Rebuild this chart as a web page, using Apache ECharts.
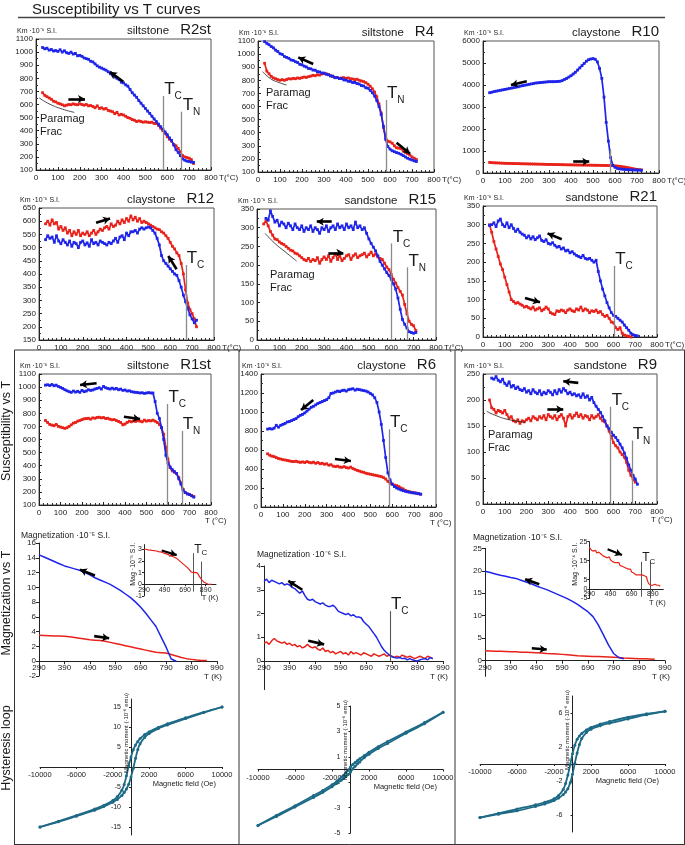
<!DOCTYPE html>
<html><head><meta charset="utf-8">
<script src="https://cdn.jsdelivr.net/npm/echarts@6/dist/echarts.min.js"></script>
<style>html,body{margin:0;padding:0;background:#fff}#c{width:685px;height:845px}</style>
</head><body><div id="c"></div>
<script>
// ---------------- DATA ----------------
const tempC = [30,40,50,60,70,80,90,100,110,120,
130,140,150,160,170,180,190,200,210,220,
230,240,250,260,270,280,290,300,310,320,
330,340,350,360,370,380,390,400,410,420,
430,440,450,460,470,480,490,500,510,520,
530,540,550,560,570,580,590,600,610,620,
630,640,650,660,670,680,690,700,710,720,
730];

const r2stBlue = [1035,1025,1030,1015,1020,1008,1012,1005,1018,1000,
1010,995,990,1000,985,990,972,975,968,955,
950,945,930,925,910,895,885,878,870,862,
850,835,825,810,800,790,770,765,750,740,
715,690,672,655,630,610,590,570,550,532,
510,490,470,450,430,410,390,370,345,325,
290,255,235,210,185,175,168,165,160,158,
null];
const r2stRed = [690,670,660,650,640,625,620,610,605,598,
590,595,600,598,605,600,598,605,600,595,
600,590,592,585,575,590,570,575,565,570,
555,550,545,530,540,520,525,520,510,500,
495,485,480,470,475,470,465,468,465,462,
465,455,455,440,420,400,380,355,335,320,
295,285,265,240,210,200,195,190,180,150,
null];
const r4Blue = [1095,1082,1072,1058,1048,1030,1020,1003,998,982,
975,968,955,952,942,936,922,918,908,902,
890,888,878,877,866,864,856,855,846,842,
833,832,820,820,813,814,803,802,793,792,
783,784,775,772,760,757,743,740,723,705,
680,645,600,540,450,350,295,275,262,255,
248,243,235,225,215,205,198,192,185,180,
null];
const r4Red = [930,870,850,830,818,812,805,800,805,800,
806,812,810,815,812,818,815,820,825,822,
828,832,838,835,842,840,848,852,850,845,
835,828,820,822,815,818,820,815,818,812,
810,805,808,800,795,790,782,770,755,735,
710,675,620,550,440,370,335,330,320,300,
285,282,278,262,250,240,230,215,205,195,
null];
const r10Blue = [3650,3670,3700,3720,3740,3760,3780,3800,3820,3840,
3860,3880,3900,3920,3950,3970,3990,4010,4030,4050,
4070,4090,4100,4110,4120,4130,4140,4150,4150,4150,
4155,4160,4170,4200,4250,4300,4360,4420,4500,4580,
4680,4780,4880,4980,5080,5150,5180,5200,5170,5050,
4750,4300,3450,2300,1450,700,350,260,210,190,
175,165,158,150,145,140,138,135,130,125,
null];
const r10Red = [480,470,465,460,455,450,445,440,438,435,
432,430,428,425,422,420,418,415,412,410,
408,405,402,400,398,395,392,390,388,386,
384,382,380,378,376,374,372,370,368,366,
364,362,360,358,356,355,354,352,350,350,
348,346,345,342,340,335,330,325,315,305,
290,275,260,240,220,200,180,165,150,140,
null];
const r12Blue = [530,545,535,540,520,545,525,515,530,520,
510,525,505,520,515,500,520,525,510,518,
505,530,515,520,510,525,520,515,510,520,
515,525,535,520,540,545,530,555,545,560,
560,565,555,570,575,570,575,578,575,565,
555,535,510,470,450,440,430,420,410,400,
395,375,350,320,295,270,245,230,215,225,
null];
const r12Red = [590,600,585,605,590,595,570,580,565,575,
555,565,545,560,550,565,545,555,550,560,
545,555,565,550,560,570,565,575,580,570,
590,580,585,600,590,605,595,610,600,620,
605,615,600,610,595,600,595,590,585,580,
575,570,568,560,555,545,535,520,505,495,
480,470,440,400,340,290,265,250,230,200,
null];
const r15Blue = [null,325,320,345,330,315,320,305,315,310,
300,312,305,295,310,300,295,305,290,300,
295,305,290,300,295,285,300,295,305,290,
300,305,295,310,300,305,295,310,300,305,
295,315,300,305,295,300,285,270,258,248,
238,225,210,200,190,180,172,162,150,136,
112,82,55,42,32,22,20,18,20,null,
null];
const r15Red = [310,318,305,290,280,270,268,262,258,255,
250,245,240,238,232,230,225,220,215,212,
218,210,215,212,220,205,215,222,215,225,
210,220,230,215,225,212,218,225,228,215,
225,230,220,225,228,232,222,228,235,225,
230,222,218,215,205,195,188,175,162,152,
140,130,120,95,70,50,42,38,25,null,
null];
const r21Blue = [298,300,305,295,310,315,300,295,305,292,
300,290,282,288,280,275,272,265,270,262,
268,260,265,270,258,255,260,250,248,252,
245,240,242,235,238,230,232,225,228,222,
218,215,212,218,210,208,210,205,200,205,
175,150,128,110,92,78,65,58,55,50,
45,40,32,25,18,10,6,4,3,null,
null];
const r21Red = [300,280,255,235,215,195,180,160,140,120,
100,95,90,92,88,85,80,82,78,75,
80,72,75,78,70,74,80,75,65,62,
60,70,68,72,70,65,72,75,70,68,
75,72,80,70,75,72,65,70,68,72,
65,68,60,55,58,50,40,38,25,20,
25,10,5,3,2,0,null,null,null,null,
null];
const r1stBlue = [1015,1018,1012,1020,1010,1015,1005,998,990,980,
972,965,960,970,962,968,960,975,965,970,
980,975,978,985,990,995,985,1005,995,990,
985,992,985,990,980,985,975,978,970,972,
965,962,960,958,955,957,952,955,958,955,
955,890,800,760,690,600,480,420,390,370,
355,340,300,260,215,195,185,180,170,160,
null];
const r1stRed = [745,730,715,710,705,715,700,695,690,685,
690,700,712,725,730,740,745,752,758,760,
762,755,765,762,768,770,765,768,760,762,
755,750,752,745,738,730,712,718,730,740,
735,742,738,745,740,735,748,740,745,742,
748,740,730,715,690,640,540,450,385,360,
350,340,310,270,220,195,185,180,172,165,
null];
const r6Blue = [820,825,820,830,860,840,860,870,880,895,
900,910,920,930,950,965,975,990,1010,1030,
1050,1060,1075,1090,1100,1110,1120,1130,1150,1195,
1200,1210,1220,1215,1225,1230,1220,1235,1240,1245,
1230,1240,1235,1230,1225,1220,1210,1195,1180,1150,
1100,1000,870,700,520,360,285,240,215,200,
190,180,172,165,160,155,150,148,145,140,
135];
const r6Red = [560,545,535,530,520,510,505,498,495,490,
485,480,478,482,475,470,475,468,478,470,
465,472,460,468,455,460,450,455,440,445,
430,425,430,420,418,425,415,410,420,405,
395,385,378,370,365,355,350,345,340,335,
330,325,320,310,295,270,250,240,230,225,
215,200,190,175,165,160,155,150,145,140,
135];
const r9Blue = [null,242,240,245,238,235,240,232,228,235,
225,228,222,225,220,218,222,215,218,212,
220,215,212,218,210,215,212,218,215,210,
218,212,220,215,222,218,212,215,210,212,
208,210,205,212,205,208,200,205,195,188,
182,176,168,160,150,145,138,132,128,122,
115,108,98,88,75,65,55,48,38,null,
null];
const r9Red = [200,185,182,175,180,178,175,180,172,165,
168,160,158,162,155,160,158,162,165,160,
168,165,162,168,165,170,162,172,168,165,
170,162,168,172,165,150,168,172,165,170,
175,168,172,165,170,168,162,170,165,168,
172,165,160,158,150,140,130,118,112,108,
100,95,90,80,65,55,48,42,null,null,
null];

// transition-temperature markers [T, top of line]
const r2stTc = [582,665], r2stTn = [666,545];
const r4Tn = [582,650];
const r10Tc = [580,1100];
const r12Tc = [671,434];
const r15Tc = [602,258], r15Tn = [673,194];
const r21Tc = [604,190];
const r1stTc = [598,871], r1stTn = [664,665];
const r6Tc = [585,818];
const r9Tc = [587,187], r9Tn = [684,122];

// heating / cooling arrows [from, to] in data units
const r2stArrows = [[[399,774],[338,850]], [[148,642],[224,642]]];
const r4Arrows = [[[251,924],[183,975]], [[630,324],[691,240]]];
const r10Arrows = [[[199,4170],[127,4000]], [[410,515],[483,515]]];
const r12Arrows = [[[261,594],[325,610]], [[629,418],[591,468]]];
const r15Arrows = [[[334,316],[267,316]], [[319,233],[386,233]]];
const r21Arrows = [[[362,261],[297,277]], [[193,104],[262,93]]];
const r1stArrows = [[[268,1030],[191,1016]], [[395,774],[470,756]]];
const r6Arrows = [[[239,1126],[183,1021]], [[338,505],[411,484]]];
const r9Arrows = [[[438,233],[369,236]], [[296,182],[369,182]]];

// paramagnetic fraction curves
const r2stArc = [[15,650],[60,605],[120,565],[175,540]];
const r4Arc = [[21,866],[57,812],[95,783],[130,764]];
const r15Arc = [[36,285],[80,258],[125,236],[177,211]];
const r9Arc = [[17,178],[60,170],[110,163],[193,157]];

// Magnetization vs T (K)
const tK20 = [290,310,330,350,370,390,410,430,450,470,
490,510,530,550,570,590,610,630,650,670,
690,710,730,750,770,790,810,830,850,870,
890,910,930,950];
const mag1Blue = [14.4,14.1,13.8,13.5,13.2,12.9,12.7,12.5,12.3,12.0,
11.7,11.3,11.0,10.7,10.4,10.0,9.6,9.1,8.6,8.0,
7.3,6.5,5.6,4.7,3.3,1.9,0.3,0.0,null,null,
null,null,null,null];
const mag1Red = [3.5,3.48,3.45,3.42,3.4,3.38,3.3,3.2,3.1,3.0,
2.9,2.85,2.8,2.7,2.55,2.4,2.25,2.1,1.95,1.8,
1.65,1.5,1.35,1.2,1.15,1.1,0.9,0.7,0.5,0.35,
0.25,0.15,0.1,0.1];
const inset1Red = [3.0,3.0,2.95,2.93,2.9,2.88,2.85,2.8,2.78,2.72,
2.65,2.6,2.52,2.45,2.38,2.3,2.2,2.05,1.9,1.75,
1.6,1.45,1.25,1.05,1.0,1.02,0.95,0.65,0.4,0.2,
0.1,0.02,0.0,0.0];
const mag3Blue = [19.9,19.6,19.3,19.0,18.8,18.5,18.3,17.9,17.5,17.1,
16.6,16.2,15.8,15.3,14.8,14.3,13.8,13.2,12.5,11.7,
10.9,9.8,8.0,5.8,3.5,1.6,0.7,0.4,null,null,
null,null,null,null];
const mag3Red = [2.2,2.15,2.1,2.1,2.05,2.0,2.0,1.9,1.85,1.8,
1.75,1.7,1.6,1.55,1.5,1.4,1.3,1.2,1.1,1.05,
1.0,0.95,0.9,0.85,0.8,0.75,0.7,0.6,0.55,0.5,
0.45,0.4,0.35,0.3];

const tK10 = [290,300,310,320,330,340,350,360,370,380,
390,400,410,420,430,440,450,460,470,480,
490,500,510,520,530,540,550,560,570,580,
590,600,610,620,630,640,650,660,670,680,
690,700,710,720,730,740,750,760,770,780,
790,800,810,820,830,840,850,860,870,880,
890,900,910,920,930,940,950,960];
const mag2Blue = [3.35,3.45,3.3,3.4,3.35,3.3,3.25,3.3,3.2,3.25,
3.2,3.1,3.05,2.95,2.85,2.95,2.75,2.6,2.55,2.6,
2.5,2.45,2.4,2.45,2.35,2.3,2.3,2.35,2.25,2.1,
2.05,2.0,1.95,2.0,1.9,1.95,1.85,1.85,1.82,1.65,
1.55,1.45,1.3,1.15,1.0,0.8,0.6,0.45,0.35,0.25,
0.18,0.15,0.12,0.15,0.1,0.12,0.05,0.1,0.05,0.02,
0.0,0.05,0.08,0.1,0.05,0.15,0.1,null];
const mag2Red = [0.75,0.8,0.7,0.85,0.95,0.85,0.8,0.75,0.8,0.7,
0.75,0.65,0.7,0.6,0.65,0.55,0.6,0.7,0.6,0.55,
0.6,0.5,0.45,0.55,0.4,0.45,0.35,0.4,0.3,0.35,
0.4,0.3,0.35,0.25,0.4,0.3,0.35,0.3,0.25,0.35,
0.3,0.25,0.2,0.3,0.25,0.2,0.25,0.3,0.2,0.25,
0.2,0.15,0.2,0.15,0.25,0.2,0.15,0.2,0.15,0.1,
0.15,0.2,0.15,0.1,0.2,0.15,0.1,null];
const inset3Red = [22,21,20.5,21.5,20,19.5,20.5,19,20,19.5,
19.8,18.5,19,17.5,18.5,17,18,16.5,17.5,17,
15.5,16.5,14.5,15.5,14,15,14,13,14,12.5,
13.5,12,12.5,11.5,12.5,11,12,10.5,10,10.5,
9,9.5,8.5,8.5,7.5,8,7.5,6.5,7.5,7,
7.5,6.5,7,6,6.5,4.5,3,3.5,2,3,
2,1.5,2.5,1.5,2,1,2,1.5];

const mag1Arrows = [[[510,11.6],[451,12.4]], [[507,3.4],[566,3.1]]];
const inset1Arrows = [[[462,2.9],[608,2.5]]];
const inset1Tc = [[770,2.66,-0.63],[847,1.94,-1.0]];
const mag2Arrows = [[[440,3.0],[385,3.37]], [[463,0.85],[525,0.7]]];
const mag2Tc = [783,0,2.1];
const mag3Arrows = [[[501,17.0],[446,18.1]], [[472,2.75],[530,2.5]]];
const inset3Arrows = [[[463,21],[599,18]]];
const inset3Tc = [[782,14.4,-4.1],[867,14.4,-5]];

// Hysteresis loops
const hField = [-10000,-8000,-6000,-4000,-3000,-2000,-1500,-1000,-750,-500,-250,0,250,500,750,1000,1500,2000,3000,4000,6000,8000,10000];
const h1Up  = [-15,-13.6,-12.1,-10.5,-9.6,-8.4,-7.4,-5.8,-4.4,-2.2,0.3,2.5,4.3,5.5,6.4,7.1,8.1,8.8,9.9,10.8,12.3,13.7,15];
const h1Low = [-15,-13.7,-12.3,-10.8,-9.9,-8.8,-8.1,-7.1,-6.4,-5.5,-4.3,-2.5,-0.3,2.2,4.4,5.8,7.4,8.4,9.6,10.5,12.1,13.6,15];
const h2Up  = [-4.4,-3.6,-2.85,-2.05,-1.65,-1.2,-0.95,-0.6,-0.45,-0.25,-0.05,0.2,0.4,0.55,0.7,0.85,1.1,1.35,1.8,2.2,2.95,3.7,4.5];
const h2Low = [-4.4,-3.7,-2.95,-2.2,-1.8,-1.35,-1.1,-0.85,-0.7,-0.55,-0.4,-0.2,0.05,0.25,0.45,0.6,0.95,1.2,1.65,2.05,2.85,3.6,4.5];
const h3Up  = [-6.3,-5.8,-5.3,-4.8,-4.5,-4.1,-3.7,-3.0,-2.3,-1.3,-0.1,1.2,2.2,2.9,3.3,3.6,4.0,4.3,4.7,5.0,5.5,5.9,6.2];
const h3Low = [-6.3,-5.9,-5.5,-5.0,-4.7,-4.3,-4.0,-3.6,-3.3,-2.9,-2.2,-1.2,0.1,1.3,2.3,3.0,3.7,4.1,4.5,4.8,5.3,5.8,6.2];

const xTicksK = [290,390,490,590,690,790,890,990];
const xTicksInset = [290,490,690,890];
const xTicksH = [-10000,-6000,-2000,2000,6000,10000];

// ---------------- LAYOUT / STYLE ----------------
const FONT = '"Liberation Sans", Arial, sans-serif';
const BLUE = '#1f25e8', RED = '#e8221a', TEAL = '#1d6a86', INK = '#1a1a1a';

const suscPanels = [
  {g:[36,39,175,131], rock:'siltstone', id:'R2st', y:[100,1100,100], blue:r2stBlue, red:r2stRed, marks:[[r2stTc,'C'],[r2stTn,'N']], arrows:r2stArrows, arc:r2stArc, pm:[40,113], unit:'side'},
  {g:[258,41,176,131], rock:'siltstone', id:'R4', y:[100,1100,100], blue:r4Blue, red:r4Red, marks:[[r4Tn,'N']], arrows:r4Arrows, arc:r4Arc, pm:[266,87], unit:'side'},
  {g:[483,41,176,132], rock:'claystone', id:'R10', y:[0,6000,1000], blue:r10Blue, red:r10Red, marks:[[r10Tc,'']], arrows:r10Arrows, unit:'side'},
  {g:[39,208,175,132], rock:'claystone', id:'R12', y:[150,650,50], blue:r12Blue, red:r12Red, marks:[[r12Tc,'C']], arrows:r12Arrows, unit:'side'},
  {g:[257,209,179,131], rock:'sandstone', id:'R15', y:[0,350,50], blue:r15Blue, red:r15Red, marks:[[r15Tc,'C'],[r15Tn,'N']], arrows:r15Arrows, arc:r15Arc, pm:[270,269], unit:'side'},
  {g:[483,206,174,131], rock:'sandstone', id:'R21', y:[0,350,50], blue:r21Blue, red:r21Red, marks:[[r21Tc,'C']], arrows:r21Arrows, unit:'side'},
  {g:[39,374,172,131], rock:'siltstone', id:'R1st', y:[100,1100,100], blue:r1stBlue, red:r1stRed, marks:[[r1stTc,'C'],[r1stTn,'N']], arrows:r1stArrows, unit:'below'},
  {g:[261,374,175,133], rock:'claystone', id:'R6', y:[0,1400,200], blue:r6Blue, red:r6Red, marks:[[r6Tc,'C']], arrows:r6Arrows, unit:'below'},
  {g:[483,374,174,130], rock:'sandstone', id:'R9', y:[0,250,50], blue:r9Blue, red:r9Red, marks:[[r9Tc,'C'],[r9Tn,'N']], arrows:r9Arrows, arc:r9Arc, pm:[488,429], unit:'below'}
];

function pairs(xs, ys){ const o=[]; for(let i=0;i<xs.length;i++){ if(ys[i]!=null) o.push([xs[i], ys[i]]); } return o; }
const plain = v => String(v);

const option = {animation:false, backgroundColor:'#fff', grid:[], xAxis:[], yAxis:[], series:[]};
const axisTxt = {fontSize:8, color:'#222', fontFamily:FONT, formatter:plain};

function addGrid(g, frame){
  option.grid.push({left:g[0], top:g[1], width:g[2], height:g[3], show:!!frame, borderColor:'#555', borderWidth:1, outerBoundsMode:'none', containLabel:false});
  return option.grid.length-1;
}
// pixel offset that puts an x axis on the y=0 level (or y axis on x=0)
function zeroShift(len, min, max){ return -len * (0 - min) / (max - min); }
function arrowData(list, w){
  return list.map(a => [{coord:a[0], symbol:'none', lineStyle:{color:'#000', width:w||2.6, type:'solid'}}, {coord:a[1], symbol:'arrow', symbolSize:[6,7]}]);
}
function vline(x, y0, y1, color, w){
  return [{coord:[x,y0], symbol:'none', lineStyle:{color:color, width:w, type:'solid'}}, {coord:[x,y1], symbol:'none'}];
}

// Susceptibility panels
suscPanels.forEach(p => {
  const gi = addGrid(p.g, true);
  p.gi = gi;
  option.xAxis.push({type:'value', gridIndex:gi, min:0, max:800, interval:100,
    axisLine:{onZero:false, lineStyle:{color:'#222', width:1}},
    axisTick:{inside:true, length:3, lineStyle:{color:'#222'}},
    minorTick:{show:true, splitNumber:5, length:2, lineStyle:{color:'#333'}},
    splitLine:{show:false}, minorSplitLine:{show:false},
    axisLabel:Object.assign({margin:4, showMinLabel:true, showMaxLabel:true, hideOverlap:false}, axisTxt)});
  option.yAxis.push({type:'value', gridIndex:gi, min:p.y[0], max:p.y[1], interval:p.y[2],
    axisLine:{onZero:false, lineStyle:{color:'#222', width:1}},
    axisTick:{inside:true, length:3, lineStyle:{color:'#222'}},
    minorTick:{show:true, splitNumber:2, length:2, lineStyle:{color:'#333'}},
    splitLine:{show:false}, minorSplitLine:{show:false},
    axisLabel:Object.assign({margin:3, showMinLabel:true, showMaxLabel:true, hideOverlap:false}, axisTxt)});
  const common = {type:'line', xAxisIndex:gi, yAxisIndex:gi, symbol:'rect', symbolSize:2.8, silent:true, animation:false};
  option.series.push(Object.assign({}, common, {data:pairs(tempC, p.red), lineStyle:{color:RED, width:1.7}, itemStyle:{color:RED}, z:3}));
  const ml = [];
  p.marks.forEach(m => ml.push(vline(m[0][0], p.y[0], m[0][1], '#8a8a8a', 1.3)));
  p.arrows.forEach(a => ml.push(arrowData([a])[0]));
  option.series.push(Object.assign({}, common, {data:pairs(tempC, p.blue), lineStyle:{color:BLUE, width:1.7}, itemStyle:{color:BLUE}, z:4,
    markLine:{silent:true, animation:false, label:{show:false}, emphasis:{disabled:true}, data:ml}}));
  if (p.arc) option.series.push({type:'line', xAxisIndex:gi, yAxisIndex:gi, data:p.arc, smooth:true, symbol:'none', silent:true, lineStyle:{color:'#222', width:0.8}, z:5});
});

// Magnetization panels
const magPanels = [
  {g:[39,543,178,133], y:[-2,16], yl:[-2,0,2,4,6,8,10,12,14,16], blue:mag1Blue, red:mag1Red, xs:tK20, arrows:mag1Arrows, title:'Magnetization ·10⁻⁵ S.I.', tpos:[21,531]},
  {g:[264,566,179,123.5], y:[-1.2,4], yl:[0,1,2,3,4], blue:mag2Blue, red:mag2Red, xs:tK10, arrows:mag2Arrows, tc:mag2Tc, title:'Magnetization ·10⁻⁶ S.I.', tpos:[257,550]},
  {g:[485,548.3,180,128.1], y:[-3.5,25], yl:[0,5,10,15,20,25], blue:mag3Blue, red:mag3Red, xs:tK20, arrows:mag3Arrows, title:'Magnetization ·10⁻⁵ S.I.', tpos:[473,533]}
];
magPanels.forEach(p => {
  const gi = addGrid(p.g, false); p.gi = gi;
  option.xAxis.push({type:'value', gridIndex:gi, min:290, max:990, offset:zeroShift(p.g[3], p.y[0], p.y[1]),
    axisLine:{onZero:false, lineStyle:{color:'#222'}},
    axisTick:{length:3, customValues:xTicksK, lineStyle:{color:'#222'}},
    splitLine:{show:false},
    axisLabel:Object.assign({margin:3, customValues:xTicksK}, axisTxt)});
  option.yAxis.push({type:'value', gridIndex:gi, min:p.y[0], max:p.y[1],
    axisLine:{onZero:false, lineStyle:{color:'#222'}},
    axisTick:{length:3, customValues:p.yl, lineStyle:{color:'#222'}},
    splitLine:{show:false},
    axisLabel:Object.assign({margin:3, customValues:p.yl}, axisTxt)});
  const common = {type:'line', xAxisIndex:gi, yAxisIndex:gi, symbol:'none', silent:true};
  option.series.push(Object.assign({}, common, {data:pairs(p.xs, p.red), lineStyle:{color:RED, width:1.5}, z:3}));
  const ml = arrowData(p.arrows);
  if (p.tc) ml.push(vline(p.tc[0], p.tc[1], p.tc[2], '#555', 1.1));
  option.series.push(Object.assign({}, common, {data:pairs(p.xs, p.blue), lineStyle:{color:BLUE, width:1.5}, z:4,
    markLine:{silent:true, animation:false, label:{show:false}, data:ml}}));
});

// Insets
const insets = [
  {g:[144,544.6,72,51.3], y:[-1,3.4], yl:[-1,0,1,2,3], red:inset1Red, xs:tK20, arrows:inset1Arrows, tcs:inset1Tc, lab:'Mag ·10⁻⁵ S.I.', lx:133},
  {g:[589.3,541.7,74,56.8], y:[-5,25], yl:[-5,0,5,15,25], red:inset3Red, xs:tK10, arrows:inset3Arrows, tcs:inset3Tc, lab:'Mag ·10⁻⁴ S.I.', lx:575}
];
insets.forEach(p => {
  const gi = addGrid(p.g, false); p.gi = gi;
  option.xAxis.push({type:'value', gridIndex:gi, min:290, max:990, offset:zeroShift(p.g[3], p.y[0], p.y[1]),
    axisLine:{onZero:false, lineStyle:{color:'#222'}},
    axisTick:{length:2, customValues:xTicksInset, lineStyle:{color:'#222'}},
    splitLine:{show:false},
    axisLabel:Object.assign({margin:2, customValues:xTicksInset}, axisTxt, {fontSize:7})});
  option.yAxis.push({type:'value', gridIndex:gi, min:p.y[0], max:p.y[1],
    axisLine:{onZero:false, lineStyle:{color:'#222'}},
    axisTick:{length:2, customValues:p.yl, lineStyle:{color:'#222'}},
    splitLine:{show:false},
    axisLabel:Object.assign({margin:2, customValues:p.yl}, axisTxt, {fontSize:7})});
  const ml = arrowData(p.arrows, 2.2);
  p.tcs.forEach(t => ml.push(vline(t[0], t[2], t[1], '#444', 0.9)));
  option.series.push({type:'line', xAxisIndex:gi, yAxisIndex:gi, symbol:'none', silent:true, data:pairs(p.xs, p.red),
    lineStyle:{color:RED, width:1.2}, z:5, markLine:{silent:true, animation:false, label:{show:false}, data:ml}});
});

// Hysteresis panels
const hystPanels = [
  {g:[40,699,182,136], y:[-17,17], yl:[-15,-10,-5,5,10,15], up:h1Up, low:h1Low},
  {g:[258,706,185,127], y:[-5,5], yl:[-5,-3,-1,1,3,5], up:h2Up, low:h2Low},
  {g:[480,696,185,136], y:[-8,8], yl:[-6,-2,2,6], up:h3Up, low:h3Low}
];
hystPanels.forEach(p => {
  const gi = addGrid(p.g, false); p.gi = gi;
  option.xAxis.push({type:'value', gridIndex:gi, min:-10000, max:10000, offset:zeroShift(p.g[3], p.y[0], p.y[1]),
    axisLine:{onZero:false, lineStyle:{color:'#222'}},
    axisTick:{length:2, customValues:xTicksH, lineStyle:{color:'#222'}},
    splitLine:{show:false},
    axisLabel:Object.assign({margin:4, customValues:xTicksH}, axisTxt, {fontSize:7.5})});
  option.yAxis.push({type:'value', gridIndex:gi, min:p.y[0], max:p.y[1], offset:zeroShift(p.g[2], -10000, 10000),
    axisLine:{onZero:false, lineStyle:{color:'#222'}},
    axisTick:{length:2, customValues:p.yl, lineStyle:{color:'#222'}},
    splitLine:{show:false},
    axisLabel:Object.assign({margin:10, customValues:p.yl}, axisTxt, {fontSize:7})});
  const common = {type:'line', xAxisIndex:gi, yAxisIndex:gi, smooth:0.3, symbol:'circle', symbolSize:3, silent:true,
    lineStyle:{color:TEAL, width:1.8}, itemStyle:{color:TEAL}, z:4};
  option.series.push(Object.assign({}, common, {data:pairs(hField, p.up)}));
  option.series.push(Object.assign({}, common, {data:pairs(hField, p.low)}));
});

const chart = echarts.init(document.getElementById('c'), null, {renderer:'canvas', width:685, height:845});
chart.setOption(option);

// ---------------- ANNOTATIONS ----------------
const G = [];
const mctx = document.createElement('canvas').getContext('2d');
function fnt(s, w){ return (w||'normal') + ' ' + s + 'px ' + FONT; }
function tw(t, s){ mctx.font = fnt(s); return mctx.measureText(t).width; }
function txt(x, y, text, size, o){
  o = o || {};
  G.push({type:'text', x:x, y:y, rotation:o.rot||0, silent:true, z:100,
    style:{text:text, font:fnt(size), fill:o.color||INK, align:o.align||'left', verticalAlign:o.va||'top', lineHeight:o.lh}});
}
function seg(x1,y1,x2,y2,w,c){ G.push({type:'line', silent:true, z:99, shape:{x1:x1,y1:y1,x2:x2,y2:y2}, style:{stroke:c||'#444', lineWidth:w||1}}); }
function px(gi, pt){ return chart.convertToPixel({gridIndex:gi}, pt); }
function tLabel(gi, pt, sub, big, small){
  const q = px(gi, pt);
  big = big || 17; small = small || 10;
  txt(q[0]+1, q[1]+2, 'T', big, {va:'bottom'});
  if (sub) txt(q[0]+1+big*0.6, q[1]+big*0.32, sub, small, {va:'bottom'});
}

// title
txt(32, 2, 'Susceptibility vs T curves', 15);
seg(18, 17.5, 665, 17.5, 1.3, '#444');
// frame of lower block
seg(14.5, 350, 685, 350, 1, '#333');
seg(14.5, 350, 14.5, 845, 1, '#333');
seg(239, 350, 239, 845, 1, '#333');
seg(455, 350, 455, 845, 1, '#333');
seg(684.5, 350, 684.5, 845, 1, '#333');
seg(14.5, 844.5, 685, 844.5, 1, '#333');
// row labels
txt(7, 431, 'Susceptibility vs T', 12.5, {rot:Math.PI/2, align:'center', va:'middle'});
txt(7, 603, 'Magnetization vs T', 12.5, {rot:Math.PI/2, align:'center', va:'middle'});
txt(7, 748, 'Hysteresis loop', 12.5, {rot:Math.PI/2, align:'center', va:'middle'});

suscPanels.forEach(p => {
  const L = p.g[0], T = p.g[1], R = p.g[0]+p.g[2], B = p.g[1]+p.g[3];
  txt(L-19, T-4, 'Km ·10⁻⁶ S.I.', 7, {va:'bottom'});
  txt(R, T-2, p.id, 15, {align:'right', va:'bottom'});
  txt(R - tw(p.id, 15) - 11, T-2, p.rock, 11.5, {align:'right', va:'bottom'});
  if (p.unit === 'side') txt(R+8, B+4, 'T(°C)', 8);
  else txt(R-6, B+12, 'T (°C)', 8);
  p.marks.forEach(m => { if (m[1]) tLabel(p.gi, m[0], m[1]); });
  if (p.pm) txt(p.pm[0], p.pm[1], 'Paramag\nFrac', 11, {lh:12.5});
});

magPanels.forEach(p => {
  txt(p.tpos[0], p.tpos[1], p.title, 8.5);
  const e = px(p.gi, [990, 0]);
  txt(e[0]-4, e[1]+12, 'T (K)', 8, {align:'center'});
  if (p.tc) tLabel(p.gi, [p.tc[0], p.tc[2]], 'C', 17, 10);
});
insets.forEach(p => {
  const e = px(p.gi, [990, 0]);
  txt(e[0]-6, e[1]+10, 'T (K)', 7.5, {align:'center'});
  txt(p.lx, p.g[1]+p.g[3]/2-6, p.lab, 7, {rot:Math.PI/2, align:'center', va:'middle'});
  const t = p.tcs[0];
  tLabel(p.gi, [t[0], t[1]], 'C', 12, 8);
});
hystPanels.forEach(p => {
  const o = px(p.gi, [0, 0]);
  const r = px(p.gi, [10000, 0]);
  txt(o[0]-5, p.g[1]+34, 'Magnetic moment (·10⁻⁶ emu)', 6, {rot:Math.PI/2, align:'center', va:'middle'});
  txt(r[0]-6, o[1]+13, 'Magnetic field (Oe)', 7.5, {align:'right'});
});

chart.setOption({graphic:{elements:G}});
</script>
</body></html>
